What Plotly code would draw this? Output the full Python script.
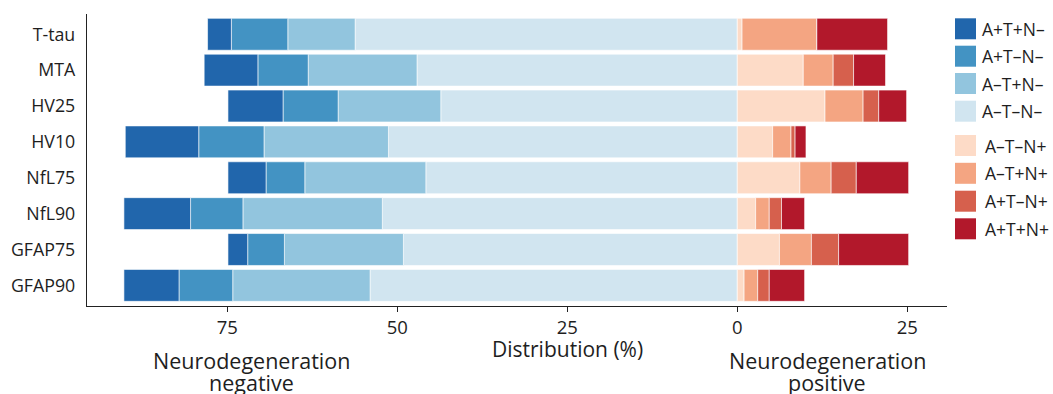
import plotly.graph_objects as go

# ---------------- data ----------------
categories = ["T-tau", "MTA", "HV25", "HV10", "NfL75", "NfL90", "GFAP75", "GFAP90"]

# neurodegeneration negative (percent)
a_neg_t_neg_n_neg = [56.2, 47.1, 43.6, 51.3, 45.8, 52.2, 49.1, 54.0]   # A–T–N–
a_neg_t_pos_n_neg = [9.9, 16.0, 15.1, 18.3, 17.8, 20.5, 17.5, 20.2]   # A–T+N–
a_pos_t_neg_n_neg = [8.3, 7.4, 8.1, 9.6, 5.7, 7.7, 5.4, 7.9]          # A+T–N–
a_pos_t_pos_n_neg = [3.5, 7.9, 8.1, 10.8, 5.6, 9.8, 2.9, 8.1]         # A+T+N–

# neurodegeneration positive (percent)
a_neg_t_neg_n_pos = [0.7, 9.7, 12.9, 5.2, 9.2, 2.7, 6.2, 1.0]         # A–T–N+
a_neg_t_pos_n_pos = [11.0, 4.4, 5.6, 2.7, 4.6, 2.0, 4.7, 2.0]         # A–T+N+
a_pos_t_neg_n_pos = [0.0, 3.0, 2.3, 0.6, 3.7, 1.8, 4.0, 1.7]          # A+T–N+
a_pos_t_pos_n_pos = [10.4, 4.7, 4.1, 1.6, 7.7, 3.4, 10.3, 5.2]        # A+T+N+

tick_values = [-75, -50, -25, 0, 25]
tick_labels = ["75", "50", "25", "0", "25"]

neg_series = [
    ("A–T–N–", a_neg_t_neg_n_neg, "#d1e5f0"),
    ("A–T+N–", a_neg_t_pos_n_neg, "#92c5de"),
    ("A+T–N–", a_pos_t_neg_n_neg, "#4393c3"),
    ("A+T+N–", a_pos_t_pos_n_neg, "#2166ac"),
]
pos_series = [
    ("A–T–N+", a_neg_t_neg_n_pos, "#fddbc7"),
    ("A–T+N+", a_neg_t_pos_n_pos, "#f4a582"),
    ("A+T–N+", a_pos_t_neg_n_pos, "#d6604d"),
    ("A+T+N+", a_pos_t_pos_n_pos, "#b2182b"),
]

FONT = "Open Sans, Noto Sans, DejaVu Sans, sans-serif"
TXT = "#1e1e1e"

fig = go.Figure()
for name, vals, col in neg_series:
    fig.add_trace(go.Bar(
        y=categories, x=[-v for v in vals], orientation="h", name=name,
        marker=dict(color=col, line=dict(color="white", width=0.6)),
        customdata=vals, hovertemplate="%{y}<br>" + name + ": %{customdata}%<extra></extra>",
        showlegend=False,
    ))
for name, vals, col in pos_series:
    fig.add_trace(go.Bar(
        y=categories, x=vals, orientation="h", name=name,
        marker=dict(color=col, line=dict(color="white", width=0.6)),
        hovertemplate="%{y}<br>" + name + ": %{x}%<extra></extra>",
        showlegend=False,
    ))

# ---------------- manual legend ----------------
legend_order = [
    ("A+T+N–", "#2166ac", 28.8, 980),
    ("A+T–N–", "#4393c3", 56.2, 980),
    ("A–T+N–", "#92c5de", 83.5, 980),
    ("A–T–N–", "#d1e5f0", 111.2, 980),
    ("A–T–N+", "#fddbc7", 145.5, 983),
    ("A–T+N+", "#f4a582", 173.3, 983),
    ("A+T–N+", "#d6604d", 201.2, 983),
    ("A+T+N+", "#b2182b", 228.8, 983),
]
W, H = 1053, 394
PL, PT, PW, PH = 87, 14, 860, 292


def px_x(x):
    return (x - PL) / PW


def px_y(y):
    return (PT + PH - y) / PH


shapes = []
annotations = []
for label, col, yc, xt in legend_order:
    shapes.append(dict(type="rect", xref="paper", yref="paper",
                       x0=px_x(955), x1=px_x(976),
                       y0=px_y(yc + 10.5), y1=px_y(yc - 10.5),
                       fillcolor=col, line=dict(width=0), layer="above"))
    annotations.append(dict(text=label, xref="paper", yref="paper",
                            x=px_x(xt), y=px_y(yc),
                            xanchor="left", yanchor="middle", showarrow=False,
                            font=dict(family=FONT, size=17.5, color=TXT)))

annotations.append(dict(text="Distribution (%)", xref="x", yref="paper",
                        x=-25, y=px_y(349), xanchor="center", yanchor="middle",
                        showarrow=False, font=dict(family=FONT, size=21, color=TXT)))
for xc, second in [(-71.5, "negative"), (13.2, "positive")]:
    annotations.append(dict(text="Neurodegeneration", xref="x", yref="paper",
                            x=xc, y=px_y(360), xanchor="center", yanchor="middle",
                            showarrow=False, font=dict(family=FONT, size=21.5, color=TXT)))
    annotations.append(dict(text=second, xref="x", yref="paper",
                            x=xc, y=px_y(382), xanchor="center", yanchor="middle",
                            showarrow=False, font=dict(family=FONT, size=21.5, color=TXT)))

fig.update_layout(
    width=W, height=H,
    margin=dict(l=PL, r=W - PL - PW, t=PT, b=H - PT - PH, pad=0),
    paper_bgcolor="white", plot_bgcolor="white",
    barmode="relative", bargap=0.11,
    showlegend=False,
    shapes=shapes, annotations=annotations,
    font=dict(family=FONT, color=TXT),
    xaxis=dict(range=[-95.63, 30.84], tickvals=tick_values, ticktext=tick_labels,
               automargin=False,
               showgrid=False, zeroline=False, showline=True, linecolor="#222",
               linewidth=1.3, ticks="outside", ticklen=5, tickwidth=1.2, tickcolor="#222",
               tickfont=dict(family=FONT, size=18.5, color=TXT)),
    yaxis=dict(categoryorder="array", categoryarray=categories,
               range=[7.575, -0.565], showgrid=False, zeroline=False, automargin=False,
               showline=True, linecolor="#222", linewidth=1.3, ticks="",
               ticklabelstandoff=7,
               tickfont=dict(family=FONT, size=17.8, color=TXT)),
)

fig.write_html("out.html")
